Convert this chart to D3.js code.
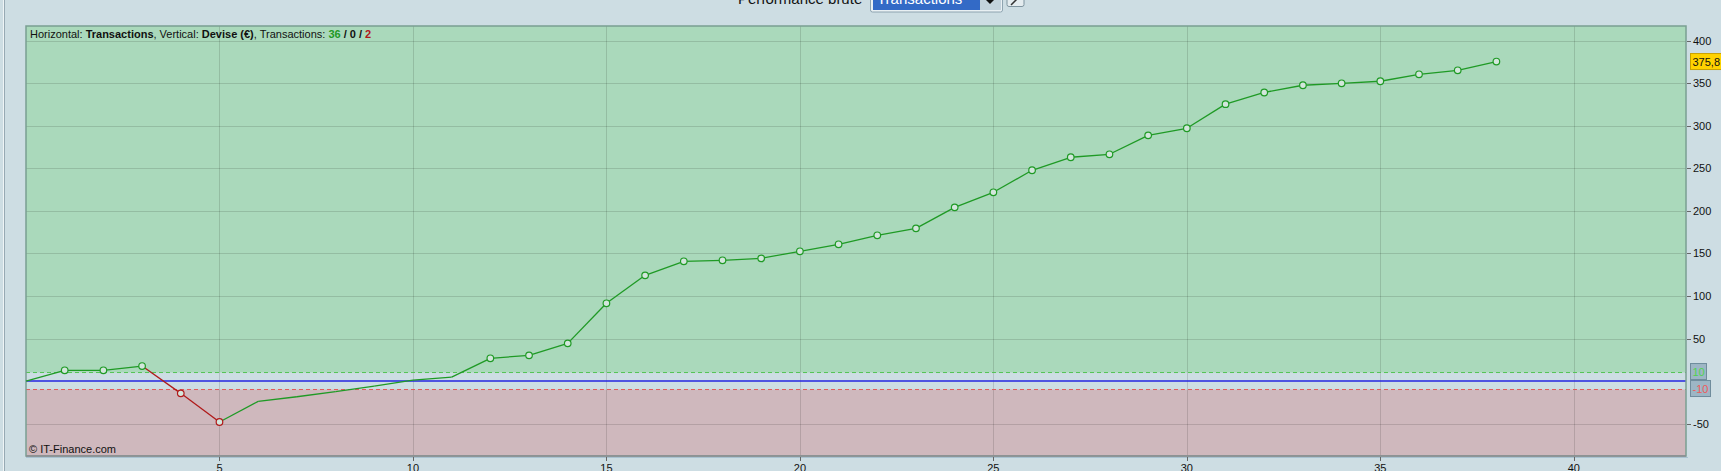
<!DOCTYPE html>
<html>
<head>
<meta charset="utf-8">
<script src="https://cdn.jsdelivr.net/npm/d3@7"></script>
<style>
  html, body { margin: 0; padding: 0; background: #cddde3; overflow: hidden; }
  svg { display: block; font-family: "Liberation Sans", Arial, sans-serif; }
</style>
</head>
<body>
<script>
// equity curve after each trade (trade 0 = start)
const equity = [0, 12.6, 12.6, 17.6, -14.5, -48.2, -24, -18.5, -12.5, -6, 1, 4.5,
  26.7, 30.2, 44.3, 91.4, 124.3, 140.8, 142, 144.3, 152.6, 160.8, 171.4, 179.6,
  204.3, 222, 247.9, 263.2, 266.7, 289, 297.3, 325.7, 339.4, 347.9, 350.2, 352.6,
  360.8, 365.5, 375.8]
const lossTrades = [4, 5]
const noMarker = [6, 7, 8, 9, 10, 11]
const xTicks = [5, 10, 15, 20, 25, 30, 35, 40]
const yTicks = [-50, 50, 100, 150, 200, 250, 300, 350, 400]
const upperLimit = 10
const lowerLimit = -10
const lastLabel = '375,8'

const WIDTH = 1721
const HEIGHT = 471
const LEFT = 26, RIGHT = 1686, TOP = 26, BOTTOM = 456
const GREEN = '#1f9a25', RED = '#b01a1a'

const svg = d3.select('body').append('svg')
  .attr('width', WIDTH)
  .attr('height', HEIGHT)

const x = d3.scaleLinear().domain([0, 42.9]).range([LEFT, RIGHT])
const y = d3.scaleLinear().domain([-88.2, 417.6]).range([BOTTOM, TOP])

// page chrome
svg.append('rect').attr('width', WIDTH).attr('height', HEIGHT).attr('fill', '#cddde3')
svg.append('line').attr('x1', 3.5).attr('x2', 3.5).attr('y1', 0).attr('y2', HEIGHT).attr('stroke', '#eef4f6')
svg.append('line').attr('x1', 4.5).attr('x2', 4.5).attr('y1', 0).attr('y2', HEIGHT).attr('stroke', '#97a9b3')

// header (cut off at top, like the screenshot)
svg.append('text').attr('x', 738).attr('y', 4).attr('font-size', 15).attr('fill', '#111')
  .text('Performance brute')
svg.append('rect').attr('x', 870.5).attr('y', -10).attr('width', 132).attr('height', 22)
  .attr('rx', 2).attr('fill', '#e9f0f3').attr('stroke', '#8ea4b0')
svg.append('rect').attr('x', 873).attr('y', -10).attr('width', 107).attr('height', 20).attr('fill', '#336ac6')
svg.append('text').attr('x', 877).attr('y', 4).attr('font-size', 15).attr('fill', '#fff').text('Transactions')
svg.append('rect').attr('x', 980).attr('y', -10).attr('width', 21).attr('height', 20).attr('fill', '#c3d3dc')
svg.append('path').attr('d', 'M986,0 L994,0 L990,4 Z').attr('fill', '#111')
svg.append('rect').attr('x', 1007).attr('y', -6).attr('width', 17).attr('height', 12.5)
  .attr('rx', 2).attr('fill', '#e4ecef').attr('stroke', '#7f949f')
svg.append('path').attr('d', 'M1011,5 L1019,-3').attr('stroke', '#333').attr('stroke-width', 1.5)

// background bands
svg.append('rect').attr('x', LEFT).attr('y', TOP).attr('width', RIGHT - LEFT)
  .attr('height', y(upperLimit) - TOP).attr('fill', '#aad9bb')
svg.append('rect').attr('x', LEFT).attr('y', y(lowerLimit)).attr('width', RIGHT - LEFT)
  .attr('height', BOTTOM - y(lowerLimit)).attr('fill', '#cfb8bd')

// grid
svg.append('g').selectAll('line').data(xTicks).join('line')
  .attr('x1', d => Math.round(x(d)) + 0.5).attr('x2', d => Math.round(x(d)) + 0.5)
  .attr('y1', TOP).attr('y2', BOTTOM)
  .attr('stroke', 'rgba(0,0,0,0.13)')
svg.append('g').selectAll('line').data(yTicks).join('line')
  .attr('x1', LEFT).attr('x2', RIGHT)
  .attr('y1', d => Math.round(y(d)) + 0.5).attr('y2', d => Math.round(y(d)) + 0.5)
  .attr('stroke', 'rgba(0,0,0,0.13)')

// limit lines
svg.append('line').attr('x1', LEFT).attr('x2', RIGHT)
  .attr('y1', y(upperLimit)).attr('y2', y(upperLimit))
  .attr('stroke', '#55c455').attr('stroke-dasharray', '4,3')
svg.append('line').attr('x1', LEFT).attr('x2', RIGHT)
  .attr('y1', y(lowerLimit)).attr('y2', y(lowerLimit))
  .attr('stroke', '#e25a5a').attr('stroke-dasharray', '4,3')
svg.append('line').attr('x1', LEFT).attr('x2', RIGHT)
  .attr('y1', y(0)).attr('y2', y(0))
  .attr('stroke', '#2525e0').attr('stroke-width', 1.5)

// frame
svg.append('rect').attr('x', LEFT).attr('y', TOP).attr('width', RIGHT - LEFT).attr('height', BOTTOM - TOP)
  .attr('fill', 'none').attr('stroke', '#7a9f92').attr('stroke-width', 1.5)
svg.append('line').attr('x1', LEFT).attr('x2', RIGHT).attr('y1', BOTTOM).attr('y2', BOTTOM)
  .attr('stroke', '#8d8c92').attr('stroke-width', 1.5)
svg.append('line').attr('x1', LEFT).attr('x2', RIGHT + 2).attr('y1', BOTTOM + 1.5).attr('y2', BOTTOM + 1.5)
  .attr('stroke', '#a9c2d1')

// equity segments, coloured by the trade they lead to
const segs = d3.range(1, equity.length).map(i => ({ i, a: equity[i - 1], b: equity[i] }))
svg.append('g').selectAll('line').data(segs).join('line')
  .attr('x1', d => x(d.i - 1)).attr('y1', d => y(d.a))
  .attr('x2', d => x(d.i)).attr('y2', d => y(d.b))
  .attr('stroke', d => lossTrades.includes(d.i) ? RED : GREEN)
  .attr('stroke-width', 1.3)

// markers
const pts = d3.range(1, equity.length).filter(i => !noMarker.includes(i))
svg.append('g').selectAll('circle').data(pts).join('circle')
  .attr('cx', d => x(d)).attr('cy', d => y(equity[d])).attr('r', 3.3)
  .attr('fill', '#d3e6dc')
  .attr('stroke', d => lossTrades.includes(d) ? RED : GREEN)
  .attr('stroke-width', 1.2)

// axes
const yAxis = svg.append('g')
yAxis.selectAll('line').data(yTicks).join('line')
  .attr('x1', RIGHT + 1).attr('x2', RIGHT + 5)
  .attr('y1', d => Math.round(y(d)) + 0.5).attr('y2', d => Math.round(y(d)) + 0.5)
  .attr('stroke', '#666')
yAxis.selectAll('text').data(yTicks).join('text')
  .attr('x', RIGHT + 7).attr('y', d => y(d) + 4)
  .attr('font-size', 11).attr('fill', '#111')
  .text(d => d)

const xAxis = svg.append('g')
xAxis.selectAll('line').data(xTicks).join('line')
  .attr('x1', d => Math.round(x(d)) + 0.5).attr('x2', d => Math.round(x(d)) + 0.5)
  .attr('y1', BOTTOM + 1).attr('y2', BOTTOM + 5)
  .attr('stroke', '#666')
xAxis.selectAll('text').data(xTicks).join('text')
  .attr('x', d => x(d)).attr('y', BOTTOM + 16)
  .attr('text-anchor', 'middle').attr('font-size', 11).attr('fill', '#111')
  .text(d => d)

// value tags on the right
function tag(v, label, w, fill, stroke, color, dy) {
  const g = svg.append('g')
  g.append('rect').attr('x', RIGHT + 4.5).attr('y', y(v) - 8 + dy).attr('width', w).attr('height', 16)
    .attr('fill', fill).attr('stroke', stroke)
  g.append('text').attr('x', RIGHT + 6.5).attr('y', y(v) + 4 + dy)
    .attr('font-size', 11).attr('fill', color).text(label)
}
tag(upperLimit, String(upperLimit), 16, '#9db6c5', '#6f8c9c', '#4fd34f', -1)
tag(lowerLimit, String(lowerLimit), 20, '#9db6c5', '#6f8c9c', '#f05a5a', -1)
tag(equity[equity.length - 1], lastLabel, 36, '#ffd200', '#c9a100', '#111', 0)

// caption
const cap = svg.append('text').attr('x', 30).attr('y', 38).attr('font-size', 11).attr('fill', '#111')
cap.append('tspan').text('Horizontal: ')
cap.append('tspan').attr('font-weight', 'bold').text('Transactions')
cap.append('tspan').text(', Vertical: ')
cap.append('tspan').attr('font-weight', 'bold').text('Devise (€)')
cap.append('tspan').text(', Transactions: ')
cap.append('tspan').attr('font-weight', 'bold').attr('fill', GREEN).text('36')
cap.append('tspan').attr('font-weight', 'bold').text(' / 0 / ')
cap.append('tspan').attr('font-weight', 'bold').attr('fill', RED).text('2')

svg.append('text').attr('x', 29).attr('y', 453).attr('font-size', 11).attr('fill', '#111')
  .text('© IT-Finance.com')
</script>
</body>
</html>
